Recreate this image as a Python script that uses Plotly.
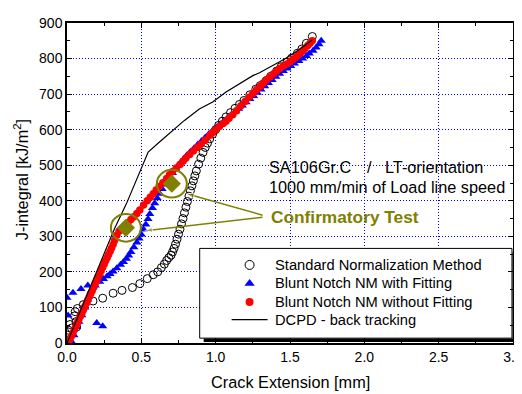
import plotly.graph_objects as go

# ---------------- data ----------------
std_x = [0.00, 0.005, 0.01, 0.02, 0.03, 0.065, 0.06, 0.05, 0.055, 0.07, 0.11, 0.175, 0.24, 0.31, 0.37,
         0.44, 0.49, 0.54, 0.58, 0.61, 0.635, 0.655, 0.67, 0.685, 0.70, 0.71, 0.72, 0.73, 0.74, 0.75,
         0.76, 0.77, 0.78, 0.79, 0.80, 0.81, 0.82, 0.83, 0.84, 0.85, 0.86, 0.87, 0.885, 0.90, 0.915,
         0.93, 0.945, 0.96, 0.98, 1.00, 1.02, 1.045, 1.07, 1.10, 1.13, 1.16, 1.19, 1.23, 1.27, 1.30,
         1.34, 1.37, 1.41, 1.44, 1.48, 1.51, 1.55, 1.58, 1.61, 1.65]
std_y = [8, 22, 36, 52, 42, 45, 60, 76, 88, 97, 108, 118, 126, 140, 148,
         156, 167, 181, 192, 200, 212, 222, 232, 240, 247, 256, 266, 278, 292, 306,
         320, 335, 350, 366, 382, 398, 413, 428, 442, 456, 470, 484, 503, 520, 536,
         550, 562, 574, 588, 600, 612, 624, 636, 648, 660, 671, 682, 698, 714, 724,
         738, 750, 765, 777, 790, 801, 815, 827, 843, 862]

fit_x = [0.00, 0.007, 0.04, 0.094, 0.14, 0.20, 0.24,
         0.03, 0.047, 0.065, 0.08, 0.10, 0.12, 0.14, 0.16, 0.19, 0.22, 0.245, 0.27, 0.29, 0.31,
         0.335, 0.36, 0.38, 0.40, 0.415, 0.43, 0.45, 0.47, 0.485, 0.50, 0.515, 0.53, 0.545,
         0.557, 0.575, 0.59, 0.607, 0.624, 0.64, 0.66, 0.675, 0.69, 0.71, 0.73, 0.755, 0.78,
         0.805, 0.83, 0.855, 0.88, 0.905, 0.93, 0.955, 0.98, 1.005, 1.03, 1.055, 1.08, 1.105,
         1.13, 1.155, 1.18, 1.205, 1.23, 1.255, 1.28, 1.305, 1.33, 1.355, 1.38, 1.405, 1.43,
         1.455, 1.48, 1.505, 1.53, 1.56, 1.585, 1.61, 1.63, 1.655, 1.676, 1.695, 1.71]
fit_y = [127, 77, 141, 152, 162, 56, 47,
         4, 22, 45, 60, 78, 100, 122, 145, 162, 172, 180, 188, 194, 201,
         210, 220, 228, 237, 246, 256, 269, 283, 294, 305, 319, 333, 349,
         363, 380, 393, 407, 420, 433, 446, 456, 466, 478, 490, 503, 515,
         527, 538, 548, 558, 568, 578, 588, 597, 606, 615, 624, 632, 641,
         650, 659, 668, 677, 686, 695, 704, 713, 722, 731, 740, 749, 757,
         765, 772, 779, 786, 793, 800, 807, 814, 822, 831, 840, 850]

nofit_x = [0.01, 0.02, 0.03, 0.04, 0.05, 0.06, 0.07, 0.08, 0.09, 0.10, 0.11, 0.12, 0.13, 0.14,
           0.15, 0.16, 0.17, 0.18, 0.19, 0.20, 0.21, 0.22, 0.23, 0.24, 0.25, 0.26, 0.27, 0.28,
           0.29, 0.30, 0.31, 0.32, 0.335, 0.35, 0.37, 0.39, 0.41, 0.43, 0.45, 0.47, 0.49, 0.515,
           0.54, 0.56, 0.58, 0.60, 0.62, 0.645, 0.67, 0.69, 0.71, 0.735, 0.76, 0.78, 0.80, 0.825,
           0.85, 0.875, 0.90, 0.93, 0.96, 0.98, 1.00, 1.025, 1.05, 1.07, 1.09, 1.115, 1.14, 1.17,
           1.20, 1.225, 1.25, 1.275, 1.30, 1.32, 1.34, 1.365, 1.39, 1.41, 1.43, 1.455, 1.48,
           1.50, 1.52, 1.54, 1.555, 1.57, 1.585, 1.60, 1.62, 1.635, 1.65]
nofit_y = [2, 11, 20, 29, 38, 47, 56, 66, 75, 84, 93, 102, 112, 121,
           130, 139, 148, 157, 167, 176, 185, 194, 203, 213, 222, 231, 240, 249,
           258, 267, 277, 288, 303, 314, 322, 330, 338, 347, 355, 364, 374, 388,
           400, 410, 420, 430, 440, 451, 463, 473, 482, 492, 502, 511, 520, 530,
           540, 550, 559, 571, 584, 592, 600, 609, 617, 624, 632, 642, 653, 667,
           680, 691, 702, 712, 722, 731, 740, 748, 757, 765, 772, 779, 785,
           791, 798, 804, 810, 816, 822, 828, 837, 843, 850]

dcpd_x = [0.00, 0.10, 0.20, 0.32, 0.40, 0.47, 0.546, 0.624, 0.71, 0.79, 0.89, 0.98, 1.07,
          1.16, 1.25, 1.295, 1.38, 1.47, 1.55, 1.63, 1.65]
dcpd_y = [0, 100, 205, 322, 392, 462, 537, 566, 598, 626, 658, 678, 706,
          728, 752, 760, 780, 800, 822, 845, 852]

conf_x = [0.396, 0.705]
conf_y = [324, 448]

x_ticks = [0.0, 0.5, 1.0, 1.5, 2.0, 2.5, 3.0]
y_ticks = [0, 100, 200, 300, 400, 500, 600, 700, 800, 900]

series_names = ["Standard Normalization Method", "Blunt Notch NM with Fitting",
                "Blunt Notch NM without Fitting", "DCPD - back tracking"]

OLIVE = "#808000"
FONT = "Liberation Sans, Arial, sans-serif"

# page has an 8px body margin; the plot area on screen is x 67..514, y 15..343
W, H = 522, 394
L, T = 59, 7
PW, PH = 447, 328


def px(sx):
    return (sx - 67) / PW


def py(sy):
    return (343 - sy) / PH


fig = go.Figure()
fig.add_trace(go.Scatter(x=std_x, y=std_y, mode="markers", name=series_names[0],
                         marker=dict(symbol="circle-open", size=8, color="black", line=dict(width=1))))
fig.add_trace(go.Scatter(x=fit_x, y=fit_y, mode="markers", name=series_names[1],
                         marker=dict(symbol="triangle-up", size=8, color="#0000ff")))
fig.add_trace(go.Scatter(x=nofit_x, y=nofit_y, mode="markers", name=series_names[2],
                         marker=dict(symbol="circle", size=7.5, color="#ff0000")))
fig.add_trace(go.Scatter(x=dcpd_x, y=dcpd_y, mode="lines", name=series_names[3],
                         line=dict(color="black", width=1.2)))
fig.add_trace(go.Scatter(x=conf_x, y=conf_y, mode="markers", name="Confirmatory Test",
                         marker=dict(symbol="diamond", size=14, color=OLIVE)))

# ellipses around confirmatory tests
for cx, cy in zip(conf_x, conf_y):
    fig.add_shape(type="circle", xref="x", yref="y",
                  x0=cx - 0.101, x1=cx + 0.101, y0=cy - 39, y1=cy + 39,
                  line=dict(color=OLIVE, width=2), layer="above")

# legend box (between grid and data) + drop shadow strips
fig.add_shape(type="rect", xref="x", yref="y", x0=0.8926, x1=2.993, y0=13.7, y1=266,
              fillcolor="white", line=dict(color="black", width=1), layer="between")
fig.add_shape(type="rect", xref="paper", yref="paper", x0=px(204), x1=px(517), y0=py(342), y1=py(338.5),
              fillcolor="black", line=dict(width=0), layer="above")
fig.add_shape(type="rect", xref="paper", yref="paper", x0=px(513.5), x1=px(517), y0=py(342), y1=py(250),
              fillcolor="black", line=dict(width=0), layer="above")

# ----- overlay axes in screen pixels for the legend symbols and arrows -----
leg_rows = [263, 282, 301, 319]
fig.add_trace(go.Scatter(x=[250], y=[leg_rows[0]], xaxis="x2", yaxis="y2", mode="markers",
                         showlegend=False, hoverinfo="skip",
                         marker=dict(symbol="circle-open", size=9, color="black", line=dict(width=1))))
fig.add_trace(go.Scatter(x=[250], y=[leg_rows[1]], xaxis="x2", yaxis="y2", mode="markers",
                         showlegend=False, hoverinfo="skip",
                         marker=dict(symbol="triangle-up", size=9, color="#0000ff")))
fig.add_trace(go.Scatter(x=[250], y=[leg_rows[2]], xaxis="x2", yaxis="y2", mode="markers",
                         showlegend=False, hoverinfo="skip",
                         marker=dict(symbol="circle", size=8, color="#ff0000")))
fig.add_trace(go.Scatter(x=[232, 268], y=[leg_rows[3], leg_rows[3]], xaxis="x2", yaxis="y2",
                         mode="lines", showlegend=False, hoverinfo="skip",
                         line=dict(color="black", width=1.2)))
for i, name in enumerate(series_names):
    fig.add_annotation(x=px(273), y=py(leg_rows[i]), xref="paper", yref="paper",
                       xanchor="left", yanchor="middle", text=name, showarrow=False,
                       font=dict(family=FONT, size=14.7, color="black"))

# arrows from the label to the ellipses
for tip in [(187, 190), (145, 228)]:
    tail = (263, 212 if tip[1] < 212 else 214)
    fig.add_trace(go.Scatter(x=[tail[0], tip[0]], y=[tail[1], tip[1]], xaxis="x2", yaxis="y2",
                             mode="lines+markers", showlegend=False, hoverinfo="skip",
                             line=dict(color=OLIVE, width=1.5),
                             marker=dict(symbol="arrow", size=[0, 8], angleref="previous", color=OLIVE)))

# texts
fig.add_annotation(x=px(267), y=py(163), xref="paper", yref="paper", xanchor="left", yanchor="middle",
                   text="SA106Gr.C", showarrow=False, font=dict(family=FONT, size=16.3, color="black"))
fig.add_annotation(x=px(366), y=py(163), xref="paper", yref="paper", xanchor="left", yanchor="middle",
                   text="/", showarrow=False, font=dict(family=FONT, size=16.3, color="black"))
fig.add_annotation(x=px(384), y=py(163), xref="paper", yref="paper", xanchor="left", yanchor="middle",
                   text="LT-orientation", showarrow=False, font=dict(family=FONT, size=16.3, color="black"))
fig.add_annotation(x=px(267), y=py(183), xref="paper", yref="paper", xanchor="left", yanchor="middle",
                   text="1000 mm/min of Load line speed", showarrow=False,
                   font=dict(family=FONT, size=16.3, color="black"))
fig.add_annotation(x=px(269), y=py(214), xref="paper", yref="paper", xanchor="left", yanchor="middle",
                   text="<b>Confirmatory Test</b>", showarrow=False,
                   font=dict(family=FONT, size=17.3, color=OLIVE))

# axis titles
fig.add_annotation(x=px(291), y=py(383), xref="paper", yref="paper", xanchor="center", yanchor="middle",
                   text="Crack Extension [mm]", showarrow=False,
                   font=dict(family=FONT, size=16.3, color="black"))
fig.add_annotation(x=px(21), y=py(176), xref="paper", yref="paper", xanchor="center", yanchor="middle",
                   text="J-integral [kJ/m<sup>2</sup>]", showarrow=False, textangle=-90,
                   font=dict(family=FONT, size=16.3, color="black"))

axis_common = dict(showline=True, linecolor="black", linewidth=1.5, mirror="allticks",
                   ticks="inside", ticklen=5, tickcolor="black", zeroline=False,
                   showgrid=True, gridcolor="#0000ff", griddash="1px,2px", gridwidth=1,
                   tickfont=dict(family=FONT, size=14, color="black"))

fig.update_xaxes(range=[0, 3], tickvals=x_ticks, ticktext=[f"{v:.1f}" for v in x_ticks],
                 ticklabeloverflow="allow",
                 minor=dict(ticks="inside", ticklen=3, dtick=0.25, tickcolor="black", showgrid=False),
                 **axis_common)
fig.update_yaxes(range=[0, 900], tickvals=y_ticks,
                 minor=dict(ticks="inside", ticklen=3, dtick=50, tickcolor="black", showgrid=False),
                 **axis_common)

fig.update_layout(
    width=W, height=H,
    margin=dict(l=L, r=W - L - PW, t=T, b=H - T - PH),
    paper_bgcolor="white", plot_bgcolor="white",
    showlegend=False,
    xaxis2=dict(overlaying="x", range=[67, 514], visible=False, fixedrange=True),
    yaxis2=dict(overlaying="y", range=[343, 15], visible=False, fixedrange=True),
    font=dict(family=FONT),
)

fig.write_html("out.html")
